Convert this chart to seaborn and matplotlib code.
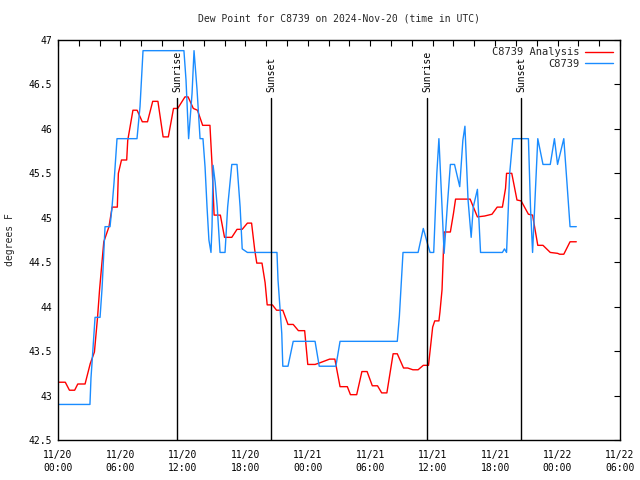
import matplotlib
matplotlib.use("Agg")
import matplotlib.pyplot as plt
import matplotlib.dates as mdates
import seaborn as sns
import pandas as pd
import numpy as np

# ---- data (hours after 2024-11-20 00:00 UTC, degrees F) ----
analysis_hours = [0, 0.7, 1.1, 1.6, 1.9, 2.6, 3.1, 3.5, 3.8, 4.0, 4.4, 4.9, 5.2, 5.7, 5.8, 6.1, 6.6,
                  6.7, 7.2, 7.6, 8.1, 8.6, 9.1, 9.6, 10.1, 10.6, 11.1, 11.5, 12.2, 12.5, 13.0, 13.4,
                  13.9, 14.6, 14.8, 15.0, 15.6, 16.0, 16.7, 17.2, 17.7, 18.2, 18.6, 18.9, 19.1, 19.6,
                  19.9, 20.1, 20.6, 21.0, 21.6, 22.1, 22.6, 23.1, 23.7, 24.0, 24.7, 25.2, 26.1, 26.6,
                  27.1, 27.8, 28.1, 28.7, 29.2, 29.7, 30.2, 30.7, 31.1, 31.6, 32.2, 32.6, 33.2, 33.6,
                  34.1, 34.6, 35.1, 35.6, 36.0, 36.2, 36.6, 36.7, 36.9, 37.1, 37.7, 38.0, 38.2, 39.6,
                  40.3, 41.0, 41.7, 42.2, 42.7, 43.0, 43.1, 43.6, 44.1, 44.5, 45.2, 45.6, 46.1, 46.6,
                  47.3, 48.0, 48.2, 48.6, 49.2, 49.8]
analysis_values = [43.15, 43.15, 43.06, 43.06, 43.13, 43.13, 43.36, 43.49, 43.88, 44.2, 44.73, 44.9,
                   45.12, 45.12, 45.5, 45.65, 45.65, 45.87, 46.21, 46.21, 46.08, 46.08, 46.31, 46.31,
                   45.91, 45.91, 46.23, 46.23, 46.36, 46.36, 46.23, 46.21, 46.04, 46.04, 45.6, 45.03,
                   45.03, 44.78, 44.78, 44.87, 44.87, 44.94, 44.94, 44.64, 44.49, 44.49, 44.27, 44.02,
                   44.02, 43.96, 43.96, 43.8, 43.8, 43.73, 43.73, 43.35, 43.35, 43.37, 43.41, 43.41,
                   43.1, 43.1, 43.01, 43.01, 43.27, 43.27, 43.11, 43.11, 43.03, 43.03, 43.47, 43.47,
                   43.31, 43.31, 43.29, 43.29, 43.34, 43.34, 43.77, 43.84, 43.84, 43.94, 44.19, 44.84,
                   44.84, 45.05, 45.21, 45.21, 45.01, 45.02, 45.04, 45.12, 45.12, 45.33, 45.5, 45.5,
                   45.2, 45.19, 45.04, 45.03, 44.69, 44.69, 44.61, 44.6, 44.59, 44.59, 44.73, 44.73]

station_hours = [0, 3.07, 3.17, 3.27, 3.56, 4.04, 4.23, 4.32, 4.52, 5.0, 5.19, 5.38, 5.67, 7.59, 7.88,
                 8.17, 12.1, 12.3, 12.55, 12.88, 13.07, 13.36, 13.65, 13.93, 14.13, 14.32, 14.5, 14.7,
                 14.8, 14.9, 15.1, 15.3, 15.57, 16.05, 16.3, 16.7, 17.2, 17.5, 17.7, 18.2, 21.04, 21.14,
                 21.5, 21.6, 22.1, 22.6, 24.7, 25.1, 26.7, 27.1, 32.6, 32.8, 33.15, 34.6, 35.1, 35.5,
                 35.75, 36.1, 36.4, 36.6, 36.9, 37.1, 37.4, 37.7, 38.1, 38.6, 38.9, 39.1, 39.4, 39.7,
                 39.9, 40.3, 40.6, 42.7, 42.9, 43.1, 43.4, 43.7, 45.2, 45.4, 45.6, 45.8, 46.1, 46.6,
                 47.3, 47.7, 48.0, 48.6, 48.9, 49.2, 49.8]
station_values = [42.9, 42.9, 43.2, 43.37, 43.88, 43.88, 44.2, 44.41, 44.9, 44.9, 45.12, 45.39, 45.89,
                  45.89, 46.25, 46.88, 46.88, 46.55, 45.89, 46.4, 46.88, 46.44, 45.89, 45.89, 45.57,
                  45.12, 44.75, 44.61, 44.9, 45.59, 45.4, 45.12, 44.61, 44.61, 45.12, 45.6, 45.6, 45.12,
                  44.65, 44.61, 44.61, 44.3, 43.7, 43.33, 43.33, 43.61, 43.61, 43.33, 43.33, 43.61,
                  43.61, 43.89, 44.61, 44.61, 44.88, 44.71, 44.61, 44.61, 45.5, 45.89, 45.12, 44.6,
                  45.12, 45.6, 45.6, 45.35, 45.87, 46.03, 45.2, 44.78, 45.12, 45.32, 44.61, 44.61,
                  44.65, 44.61, 45.5, 45.89, 45.89, 45.12, 44.61, 45.12, 45.89, 45.6, 45.6, 45.89,
                  45.6, 45.89, 45.4, 44.9, 44.9]

series_names = ["C8739 Analysis", "C8739"]
series_colors = ["#ff0000", "#1a8cff"]

sun_times = ["2024-11-20 11:26", "2024-11-20 20:28", "2024-11-21 11:27", "2024-11-21 20:29"]
sun_labels = ["Sunrise", "Sunset", "Sunrise", "Sunset"]
sun_line_top = 46.35

title = "Dew Point for C8739 on 2024-Nov-20 (time in UTC)"
ylabel = "degrees F"
y_ticks = [42.5, 43, 43.5, 44, 44.5, 45, 45.5, 46, 46.5, 47]
y_tick_labels = ["42.5", "43", "43.5", "44", "44.5", "45", "45.5", "46", "46.5", "47"]

# ---- build table ----
base = pd.Timestamp("2024-11-20 00:00")
df = pd.concat([
    pd.DataFrame({"time": base + pd.to_timedelta(analysis_hours, unit="h"),
                  "value": analysis_values, "series": series_names[0]}),
    pd.DataFrame({"time": base + pd.to_timedelta(station_hours, unit="h"),
                  "value": station_values, "series": series_names[1]}),
], ignore_index=True)

sns.set_theme(style="white")
plt.rcParams["font.family"] = ["DejaVu Sans Mono", "DejaVu Sans"]
plt.rcParams["font.size"] = 7

fig = plt.figure(figsize=(6.4, 4.8), dpi=100)
ax = fig.add_axes([58 / 640, 40 / 480, 562 / 640, 400 / 480])

sns.lineplot(data=df, x="time", y="value", hue="series", hue_order=series_names,
             palette=dict(zip(series_names, series_colors)), estimator=None, sort=False,
             linewidth=1.0, ax=ax)

for t, lab in zip(sun_times, sun_labels):
    tt = pd.Timestamp(t)
    ax.plot([tt, tt], [42.5, sun_line_top], color="black", lw=1.0)
    ax.text(tt, sun_line_top + 0.07, lab, rotation=90, ha="center", va="bottom",
            fontsize=7, color="black")

ax.set_xlim(pd.Timestamp("2024-11-20 00:00"), pd.Timestamp("2024-11-22 06:00"))
ax.set_ylim(42.5, 47)
ax.set_yticks(y_ticks)
ax.set_yticklabels(y_tick_labels)
ax.xaxis.set_major_locator(mdates.HourLocator(byhour=range(0, 24, 6)))
ax.xaxis.set_minor_locator(mdates.HourLocator(byhour=range(0, 24, 2)))
ax.xaxis.set_major_formatter(mdates.DateFormatter("%m/%d\n%H:%M"))

ax.tick_params(axis="both", which="both", direction="in", top=True, right=True,
               length=4, width=0.8, color="black", labelsize=7, labelcolor="black", pad=4)
ax.tick_params(axis="x", which="major", pad=7)
for s in ax.spines.values():
    s.set_color("black")
    s.set_linewidth(1.0)

ax.set_xlabel("")
ax.set_ylabel(ylabel, fontsize=7, labelpad=10)
ax.set_title(title, fontsize=7, pad=13.5)

handles, labels = ax.get_legend_handles_labels()
ax.legend(handles, labels, loc="upper right", frameon=False, markerfirst=False,
          handlelength=2.7, handletextpad=0.5, labelspacing=0.15, borderaxespad=0.3,
          fontsize=7.5)

fig.canvas.draw()
for lbl in ax.get_xticklabels():
    lbl.set_linespacing(1.4)
fig.savefig("out.png", dpi=100)
